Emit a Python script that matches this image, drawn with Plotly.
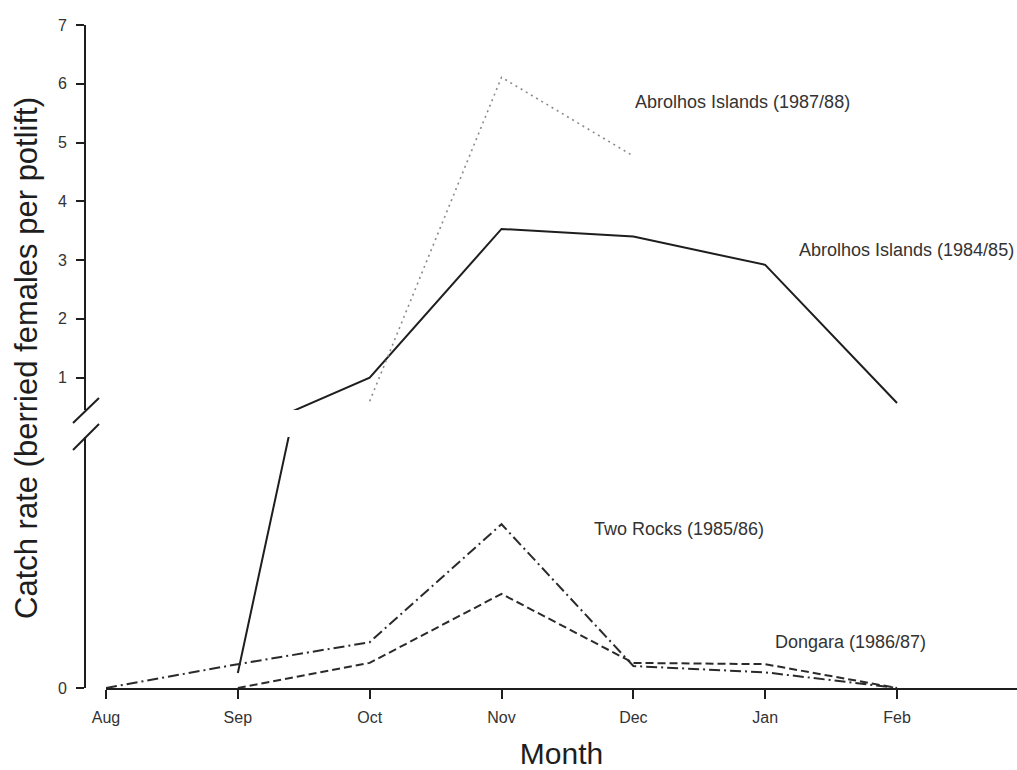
import plotly.graph_objects as go

# Monthly catch rates of berried females (per potlift)
months = ["Aug", "Sep", "Oct", "Nov", "Dec", "Jan", "Feb"]
abrolhos_8485 = [None, 0.024, 1.00, 3.53, 3.40, 2.92, 0.57]
abrolhos_8788 = [None, None, 0.60, 6.11, 4.77, None, None]
two_rocks_8586 = [0.0, 0.038, 0.073, 0.261, 0.035, 0.025, 0.0]
dongara_8687 = [None, 0.0, 0.040, 0.150, 0.040, 0.038, 0.0]

upper_ticks = [1, 2, 3, 4, 5, 6, 7]
lower_ticks = [0]

FONT = "Liberation Sans, Arial, sans-serif"
INK = "#1e1e1e"

# page geometry (pixels)
W, H = 1017, 770
L, R, T, B = 85, 0, 25, 82
PW, PH = W - L - R, H - T - B
x_axis_start = 106
y_lower_top = 437
y_upper_bottom = 410


def frac_y(py):
    return (H - B - py) / PH


def frac_x(px):
    return (px - L) / PW


series = [
    (abrolhos_8485, dict(color=INK, width=2)),
    (abrolhos_8788, dict(color="#8a8a8a", width=1.6, dash="2px,4px")),
    (two_rocks_8586, dict(color="#2a2a2a", width=2, dash="11px,4px,2px,4px")),
    (dongara_8687, dict(color="#2a2a2a", width=2, dash="8px,4px")),
]

fig = go.Figure()
# each series is drawn in both halves of the broken axis; each half clips it
for values, line in series:
    for yax in ("y", "y2"):
        fig.add_trace(go.Scatter(
            x=months, y=values, mode="lines", line=line,
            xaxis="x", yaxis=yax, showlegend=False, hoverinfo="skip",
        ))

axis_common = dict(
    showgrid=False, zeroline=False, showline=True, linecolor=INK, linewidth=2,
    ticks="outside", ticklen=8, tickwidth=1.5, tickcolor=INK,
    tickfont=dict(family=FONT, size=16, color="#333"), automargin=False,
)

fig.update_layout(
    width=W, height=H,
    margin=dict(l=L, r=R, t=T, b=B),
    plot_bgcolor="white", paper_bgcolor="white",
    font=dict(family=FONT, color=INK),
    xaxis=dict(
        axis_common, type="category", categoryorder="array", categoryarray=months,
        domain=[frac_x(x_axis_start), 1], range=[0, 6.91], anchor="y",
        ticklen=9, ticklabelstandoff=5,
        tickfont=dict(family=FONT, size=16, color="#333"),
        title=dict(text="Month", font=dict(family=FONT, size=30, color=INK), standoff=19),
    ),
    yaxis=dict(
        axis_common, domain=[0, frac_y(y_lower_top)], range=[0, 0.4],
        tickvals=lower_ticks, anchor="free", position=0, ticklabelstandoff=6,
    ),
    yaxis2=dict(
        axis_common, domain=[frac_y(y_upper_bottom), 1], range=[0.45, 7],
        tickvals=upper_ticks, anchor="free", position=0, ticklabelstandoff=6,
    ),
)

# break marks on the value axis
for y0, y1 in ((423, 398), (450, 424)):
    fig.add_shape(type="line", xref="paper", yref="paper",
                  x0=frac_x(73), y0=frac_y(y0), x1=frac_x(99), y1=frac_y(y1),
                  line=dict(color=INK, width=2))

fig.add_annotation(
    text="Catch rate (berried females per potlift)", textangle=-90,
    xref="paper", yref="paper", x=frac_x(26), y=frac_y(358),
    xanchor="center", yanchor="middle", showarrow=False,
    font=dict(family=FONT, size=31, color=INK),
)

label_font = dict(family=FONT, size=18, color="#333")
labels = [
    ("Abrolhos Islands (1987/88)", 4.0, 5.69, "y2"),
    ("Abrolhos Islands (1984/85)", 5.24, 3.18, "y2"),
    ("Two Rocks (1985/86)", 3.69, 0.253, "y"),
    ("Dongara (1986/87)", 5.06, 0.073, "y"),
]
for text, xv, yv, yref in labels:
    fig.add_annotation(text=text, x=xv, y=yv, xref="x", yref=yref,
                       xanchor="left", yanchor="middle", showarrow=False,
                       font=label_font)

fig.write_html("out.html", config={"displayModeBar": False})
